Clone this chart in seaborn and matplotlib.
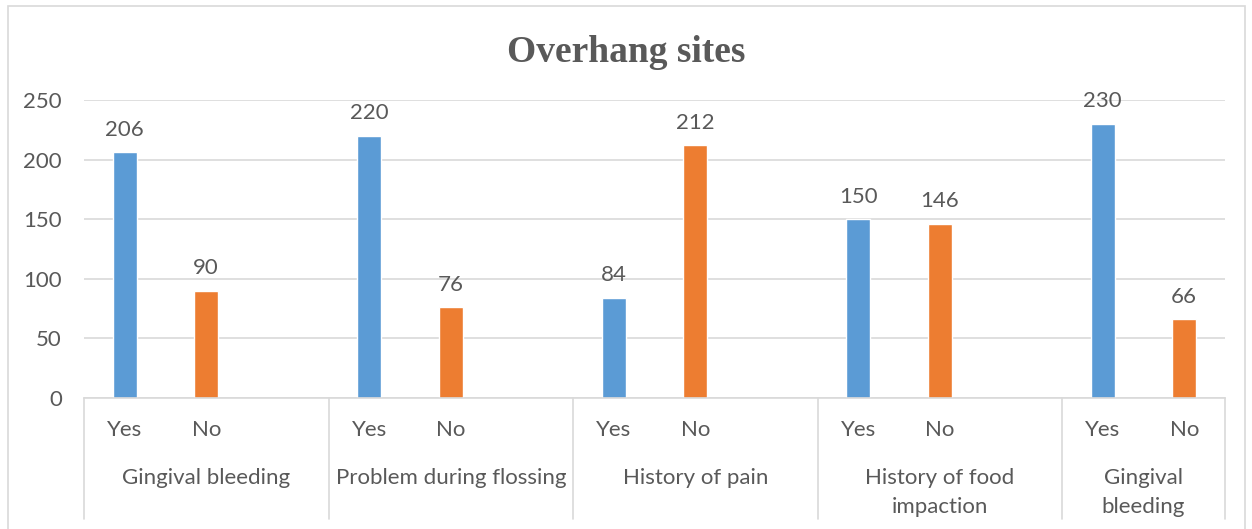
import matplotlib
matplotlib.use("Agg")
import matplotlib.pyplot as plt
import matplotlib.transforms as mtransforms
from matplotlib.patches import Rectangle
import seaborn as sns
import pandas as pd

# data
groups = ["Gingival bleeding", "Problem during flossing", "History of pain",
          "History of food\nimpaction", "Gingival\nbleeding"]
answers = ["Yes", "No"]
yes_vals = [206, 220, 84, 150, 230]
no_vals = [90, 76, 212, 146, 66]

colors = {"Yes": "#5B9BD5", "No": "#ED7D31"}
text_col = "#595959"
grid_col = "#D9D9D9"

# build slots: Yes, No, blank gap after every group except the last
rows = []
order = []
for i, g in enumerate(groups):
    for a, v in zip(answers, [yes_vals[i], no_vals[i]]):
        slot = f"{i}_{a}"
        rows.append({"slot": slot, "answer": a, "value": v})
        order.append(slot)
    if i < len(groups) - 1:
        order.append(f"{i}_gap")
df = pd.DataFrame(rows)

sns.set_style("white")
plt.rcParams["font.family"] = ["Lato", "DejaVu Sans"]

fig = plt.figure(figsize=(12.52, 5.29), dpi=100)
ax = fig.add_axes([84 / 1252, 1 - 398 / 529, (1225 - 84) / 1252, 298 / 529])

sns.barplot(data=df, x="slot", y="value", hue="answer", order=order,
            hue_order=answers, palette=colors, dodge=False, width=0.3,
            saturation=1, legend=False, ax=ax)

for cont in ax.containers:
    ax.bar_label(cont, padding=9, fontsize=16, color=text_col, clip_on=False)

ax.set_xlim(-0.5, len(order) - 0.5)
ax.set_ylim(0, 250)
ax.set_yticks([0, 50, 100, 150, 200, 250])
ax.yaxis.grid(True, color=grid_col, lw=1.2)
ax.set_axisbelow(True)
for s in ["top", "right", "left"]:
    ax.spines[s].set_visible(False)
ax.spines["bottom"].set_color(grid_col)
ax.spines["bottom"].set_linewidth(1.2)
ax.tick_params(axis="y", length=0, pad=16, labelsize=16, labelcolor=text_col)

# first level labels (Yes / No)
tick_pos = [order.index(s) for s in df["slot"]]
ax.set_xticks(tick_pos)
ax.set_xticklabels(df["answer"])
ax.tick_params(axis="x", length=0, pad=16, labelsize=16, labelcolor=text_col)
ax.set_xlabel("")
ax.set_ylabel("")

# second level labels and separators
trans = mtransforms.blended_transform_factory(ax.transData, ax.transAxes)
bounds = [-0.5]
for i in range(len(groups)):
    start = bounds[-1]
    end = start + (3 if i < len(groups) - 1 else 2)
    bounds.append(end)
    ax.text((start + end) / 2, -0.235, groups[i], transform=trans, ha="center",
            va="top", fontsize=16, color=text_col, linespacing=1.55)
for b in bounds:
    ax.plot([b, b], [0, -0.406], transform=trans, color=grid_col, lw=1.2,
            clip_on=False)

fig.text(0.5, 1 - 52 / 529, "Overhang sites", ha="center", va="center",
         fontsize=27, fontweight="bold", color=text_col,
         family="Liberation Serif")

# chart border
fig.patches.append(Rectangle((8 / 1252, -0.05), (1245 - 8) / 1252, 1.05 - 6 / 529,
                             transform=fig.transFigure, fill=False,
                             edgecolor=grid_col, lw=1.2))

fig.savefig("out.png", dpi=100)
